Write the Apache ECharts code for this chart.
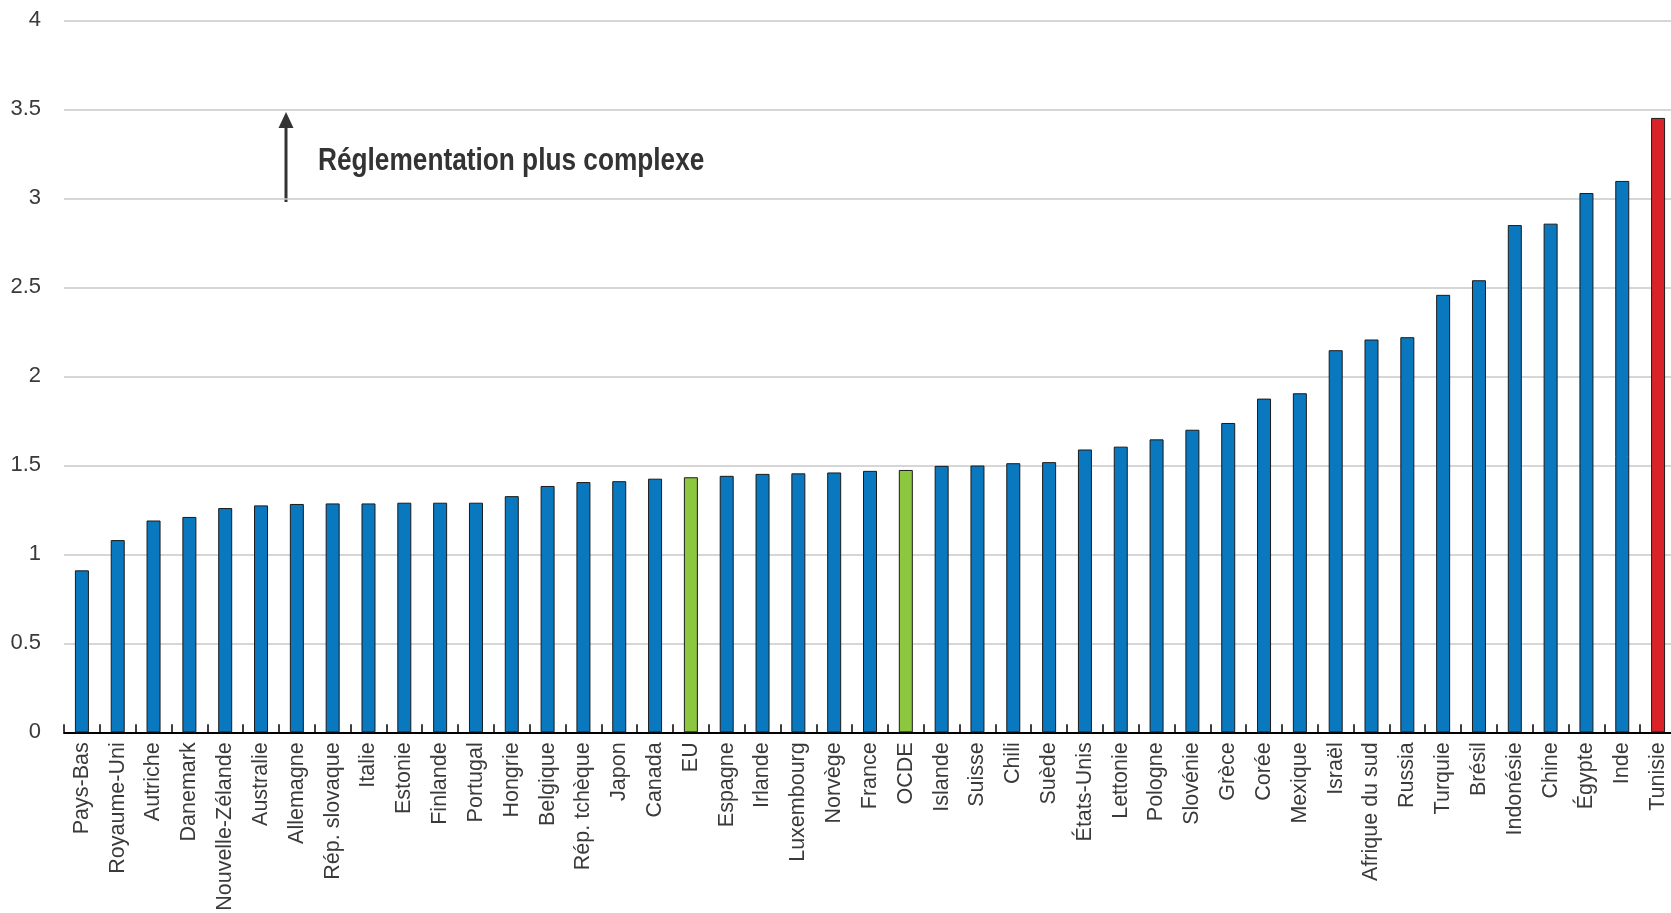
<!DOCTYPE html>
<html>
<head>
<meta charset="utf-8">
<script src="https://cdn.jsdelivr.net/npm/echarts@6/dist/echarts.min.js"></script>
<style>
html,body{margin:0;padding:0;background:#fff;}
#chart{width:1671px;height:913px;}
</style>
</head>
<body>
<div id="chart"></div>
<script>
var categories = ["Pays-Bas","Royaume-Uni","Autriche","Danemark","Nouvelle-Zélande","Australie","Allemagne","Rép. slovaque","Italie","Estonie","Finlande","Portugal","Hongrie","Belgique","Rép. tchèque","Japon","Canada","EU","Espagne","Irlande","Luxembourg","Norvège","France","OCDE","Islande","Suisse","Chili","Suède","États-Unis","Lettonie","Pologne","Slovénie","Grèce","Corée","Mexique","Israël","Afrique du sud","Russia","Turquie","Brésil","Indonésie","Chine","Égypte","Inde","Tunisie"];
var values = [0.91,1.08,1.19,1.21,1.26,1.275,1.283,1.286,1.286,1.29,1.29,1.29,1.327,1.384,1.406,1.411,1.425,1.433,1.441,1.452,1.455,1.46,1.469,1.474,1.497,1.499,1.512,1.518,1.589,1.605,1.646,1.70,1.738,1.875,1.905,2.147,2.207,2.22,2.458,2.54,2.85,2.858,3.03,3.098,3.452];
var greenCats = ["EU","OCDE"];
var redCats = ["Tunisie"];
var yTicks = [0,0.5,1,1.5,2,2.5,3,3.5,4];
var annotationText = "Réglementation plus complexe";

var BLUE = "#0A78BF", GREEN = "#8DC63F", RED = "#DA2229";
var FONT = "'Liberation Sans Narrow','Arial Narrow','Liberation Sans',Arial,sans-serif";

var chart = echarts.init(document.getElementById('chart'), null, {renderer:'canvas'});
var seriesData = categories.map(function(c,i){
  var col = BLUE;
  if (greenCats.indexOf(c) >= 0) col = GREEN;
  if (redCats.indexOf(c) >= 0) col = RED;
  return {value: values[i], itemStyle:{color: col}};
});

chart.setOption({
  animation:false,
  backgroundColor:'#fff',
  grid:{left:64, right:-5, top:20.4, bottom:913-732.3, containLabel:false, outerBoundsMode:'none'},
  xAxis:{
    type:'category',
    data:categories,
    boundaryGap:true,
    axisLine:{show:true, lineStyle:{color:'#000', width:2}},
    axisTick:{show:true, inside:true, length:8, lineStyle:{color:'#000', width:1.5}, alignWithLabel:false},
    axisLabel:{rotate:90, interval:0, margin:10, color:'#3a3a3a', fontSize:21.5, fontFamily:FONT},
    splitLine:{show:false}
  },
  yAxis:{
    type:'value',
    min:0, max:4, interval:0.5,
    axisLine:{show:false},
    axisTick:{show:false},
    axisLabel:{color:'#3a3a3a', fontSize:22, fontFamily:FONT, margin:23,
      formatter:function(v){ return yTicks.indexOf(v)>=0 ? String(v) : ''; }},
    splitLine:{show:true, lineStyle:{color:'#C8C8C8', width:1.5}}
  },
  series:[{
    type:'bar',
    data:seriesData,
    barWidth:14,
    itemStyle:{borderColor:'#1a1a1a', borderWidth:1}
  }],
  graphic:[
    {type:'line', shape:{x1:286, y1:202, x2:286, y2:126}, style:{stroke:'#333', lineWidth:3}},
    {type:'polygon', shape:{points:[[278.5,128],[293.5,128],[286,112]]}, style:{fill:'#333'}},
    {type:'text', x:318, y:161, scaleX:0.82, scaleY:1,
      style:{text:annotationText, fill:'#333', font:"bold 32px 'Liberation Sans',Arial,sans-serif", verticalAlign:'middle', align:'left'}}
  ]
});
</script>
</body>
</html>
